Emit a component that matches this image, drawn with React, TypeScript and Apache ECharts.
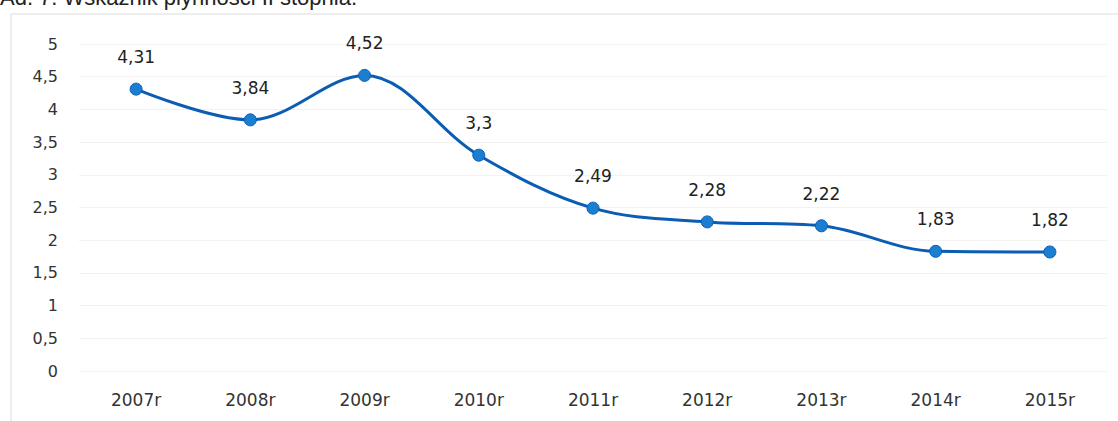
import React, { useEffect, useRef } from "react";
import * as echarts from "echarts";

const categories = ["2007r", "2008r", "2009r", "2010r", "2011r", "2012r", "2013r", "2014r", "2015r"];
const values = [4.31, 3.84, 4.52, 3.3, 2.49, 2.28, 2.22, 1.83, 1.82];
const titleText = "Ad. 7. Wskaźnik płynności II stopnia.";

const fmt = (v: number) => String(v).replace(".", ",");
const FONT = "'DejaVu Sans', Verdana, sans-serif";

export default function App() {
  const ref = useRef<HTMLDivElement>(null);
  useEffect(() => {
    const chart = echarts.init(ref.current!, null, { renderer: "svg" });
    chart.setOption({
      animation: false,
      backgroundColor: "#ffffff",
      graphic: [
        {
          type: "rect",
          shape: { x: 11, y: 14, width: 1200, height: 500 },
          style: { fill: "none", stroke: "#dcdcdc", lineWidth: 1 },
          silent: true,
        },
        {
          type: "text",
          x: 0,
          y: 8,
          style: {
            text: titleText,
            font: "22px 'Liberation Sans', Arial, sans-serif",
            fill: "#222",
            verticalAlign: "bottom",
          },
        },
      ],
      grid: { left: 79, right: 11, top: 44, bottom: 50 },
      xAxis: {
        type: "category",
        data: categories,
        boundaryGap: true,
        axisLine: { show: false },
        axisTick: { show: false },
        axisLabel: { color: "#333", fontSize: 17, fontFamily: FONT, margin: 20 },
      },
      yAxis: {
        type: "value",
        min: 0,
        max: 5,
        interval: 0.5,
        axisLine: { show: false },
        axisTick: { show: false },
        splitLine: { lineStyle: { color: "#f2f2f2", width: 1 } },
        axisLabel: {
          color: "#333",
          fontSize: 16,
          fontFamily: FONT,
          margin: 21,
          formatter: (v: number) => fmt(v),
        },
      },
      series: [
        {
          type: "line",
          data: values,
          smooth: 0.35,
          symbol: "circle",
          symbolSize: 12,
          lineStyle: { color: "#0b5db3", width: 3 },
          itemStyle: { color: "#1a7fd0", borderColor: "#0b5db3", borderWidth: 1 },
          label: {
            show: true,
            position: "top",
            distance: 17,
            color: "#222",
            fontSize: 17,
            fontFamily: FONT,
            formatter: (p: any) => fmt(p.value),
          },
        },
      ],
    });
    return () => chart.dispose();
  }, []);
  return <div ref={ref} style={{ position: "fixed", left: 0, top: 0, width: 1118, height: 421 }} />;
}
